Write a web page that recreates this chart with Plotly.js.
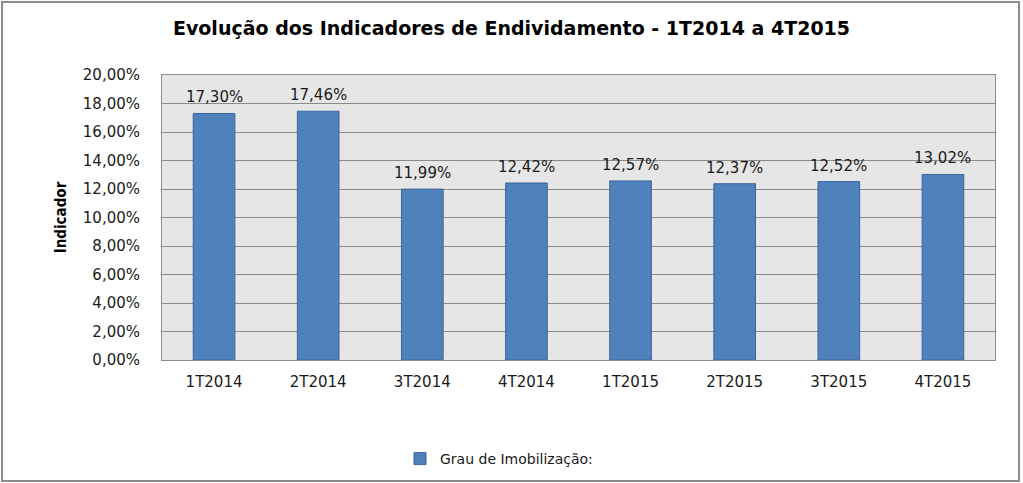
<!DOCTYPE html>
<html><head><meta charset="utf-8">
<script src="https://cdn.plot.ly/plotly-3.0.1.min.js"></script>
<style>
html,body{margin:0;padding:0;background:#fff;}
#wrap{position:relative;width:1023px;height:483px;}
#chart{width:1023px;height:483px;}
#frame{position:absolute;left:1px;top:1px;width:1015px;height:477px;border:2px solid #8c8c8c;pointer-events:none;}
</style></head>
<body>
<div id="wrap"><div id="chart"></div><div id="frame"></div></div>
<script>
const categories = ["1T2014","2T2014","3T2014","4T2014","1T2015","2T2015","3T2015","4T2015"];
const grauImobilizacao = [0.1730,0.1746,0.1199,0.1242,0.1257,0.1237,0.1252,0.1302];
const seriesName = "Grau de Imobilização:";
const chartTitle = "Evolução dos Indicadores de Endividamento - 1T2014 a 4T2015";
const yTitle = "Indicador";

const fmt = v => (v * 100).toFixed(2).replace('.', ',') + '%';

const trace = {
  type: 'bar',
  x: categories,
  y: grauImobilizacao,
  name: seriesName,
  marker: {color: '#4f81bd', line: {color: '#3a659a', width: 1}},
  showlegend: true
};

const annotations = categories.map((c, i) => ({
  x: c, y: grauImobilizacao[i], xref: 'x', yref: 'y',
  text: fmt(grauImobilizacao[i]),
  showarrow: false, yanchor: 'bottom', yshift: 5,
  font: {family: 'DejaVu Sans', size: 15, color: '#1a1a1a'}
}));

const layout = {
  width: 1023, height: 483,
  margin: {l: 162, r: 28, t: 75, b: 123},
  paper_bgcolor: '#ffffff',
  plot_bgcolor: '#e6e6e6',
  separators: ',.',
  bargap: 0.6,
  title: {text: '<b>' + chartTitle + '</b>', font: {family: 'DejaVu Sans', size: 19, color: '#000'},
          x: 0.5, xref: 'container', xanchor: 'center', y: 1 - 28/483, yref: 'container', yanchor: 'middle'},
  xaxis: {
    type: 'category',
    tickfont: {family: 'DejaVu Sans', size: 15, color: '#1a1a1a'},
    showline: true, linecolor: '#8c8c8c', linewidth: 1, mirror: true,
    ticks: '', ticklabelstandoff: 8, fixedrange: true
  },
  yaxis: {
    range: [0, 0.20],
    dtick: 0.02,
    tickformat: '.2%',
    tickfont: {family: 'DejaVu Sans', size: 15, color: '#1a1a1a'},
    gridcolor: '#8a8a8a', gridwidth: 1,
    showline: true, linecolor: '#8c8c8c', linewidth: 1, mirror: true,
    zeroline: false, ticks: '', ticklabelstandoff: 18,
    title: {text: '<b>' + yTitle + '</b>', font: {family: 'DejaVu Sans Condensed', size: 15, color: '#000'}, standoff: 12},
    fixedrange: true
  },
  annotations: annotations,
  showlegend: true,
  legend: {
    orientation: 'h',
    xref: 'container', yref: 'container',
    x: 400/1023, xanchor: 'left',
    y: 1 - 459/483, yanchor: 'middle',
    font: {family: 'DejaVu Sans', size: 14, color: '#1a1a1a'},
    bgcolor: 'rgba(0,0,0,0)'
  }
};

Plotly.newPlot('chart', [trace], layout, {displayModeBar: false, staticPlot: true});
</script>
</body></html>
